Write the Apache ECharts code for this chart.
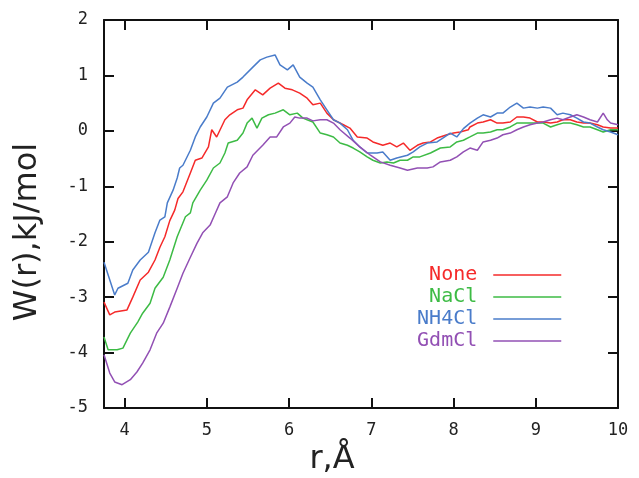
<!DOCTYPE html>
<html>
<head>
<meta charset="utf-8">
<script src="https://cdn.jsdelivr.net/npm/echarts@6/dist/echarts.min.js"></script>
<style>html,body{margin:0;padding:0;background:#fff;}#c{width:639px;height:478px;}</style>
</head>
<body>
<div id="c"></div>
<script>
const seriesNames = ['None', 'NaCl', 'NH4Cl', 'GdmCl'];
const xTicks = [4, 5, 6, 7, 8, 9, 10];
const yTicks = [-5, -4, -3, -2, -1, 0, 1, 2];

const noneR = [3.75,3.82,3.88,4.03,4.10,4.19,4.29,4.37,4.43,4.49,4.55,4.61,4.65,4.71,4.80,4.86,4.94,5.02,5.06,5.12,5.22,5.28,5.37,5.44,5.49,5.59,5.68,5.77,5.87,5.95,6.04,6.13,6.22,6.29,6.38,6.46,6.54,6.66,6.74,6.83,6.95,7.02,7.14,7.23,7.31,7.39,7.47,7.56,7.63,7.72,7.80,7.92,8.00,8.08,8.18,8.20,8.29,8.36,8.45,8.53,8.60,8.69,8.77,8.85,8.93,9.02,9.09,9.18,9.26,9.33,9.42,9.50,9.58,9.66,9.75,9.82,9.91,10.00];
const noneW = [-3.09,-3.32,-3.27,-3.23,-3.00,-2.69,-2.55,-2.33,-2.10,-1.91,-1.62,-1.43,-1.22,-1.10,-0.76,-0.53,-0.49,-0.29,0.02,-0.11,0.20,0.29,0.38,0.41,0.56,0.74,0.65,0.77,0.86,0.77,0.74,0.68,0.59,0.47,0.50,0.32,0.20,0.11,0.05,-0.11,-0.13,-0.20,-0.26,-0.22,-0.29,-0.22,-0.35,-0.26,-0.22,-0.20,-0.13,-0.07,-0.04,-0.02,0.02,0.07,0.14,0.16,0.20,0.14,0.14,0.16,0.25,0.25,0.23,0.16,0.16,0.14,0.16,0.20,0.20,0.16,0.14,0.14,0.11,0.07,0.05,0.05];

const naclR = [3.75,3.80,3.91,3.98,4.07,4.16,4.22,4.31,4.37,4.47,4.55,4.64,4.74,4.80,4.83,4.92,5.00,5.08,5.16,5.22,5.26,5.37,5.44,5.49,5.55,5.61,5.67,5.75,5.83,5.93,6.01,6.10,6.17,6.22,6.29,6.38,6.46,6.54,6.62,6.71,6.78,6.86,6.95,7.02,7.11,7.19,7.27,7.35,7.44,7.51,7.59,7.72,7.84,7.96,8.04,8.12,8.20,8.29,8.36,8.45,8.53,8.60,8.69,8.77,8.85,8.93,9.02,9.09,9.18,9.26,9.33,9.42,9.50,9.58,9.66,9.75,9.82,9.91,10.00];
const naclW = [-3.72,-3.95,-3.95,-3.92,-3.65,-3.45,-3.29,-3.11,-2.84,-2.64,-2.33,-1.91,-1.55,-1.48,-1.30,-1.07,-0.89,-0.67,-0.58,-0.40,-0.22,-0.17,-0.04,0.14,0.23,0.05,0.23,0.29,0.32,0.38,0.29,0.32,0.23,0.20,0.16,-0.04,-0.07,-0.11,-0.22,-0.26,-0.31,-0.38,-0.47,-0.53,-0.58,-0.56,-0.58,-0.53,-0.53,-0.47,-0.47,-0.40,-0.31,-0.29,-0.20,-0.17,-0.11,-0.04,-0.04,-0.02,0.02,0.02,0.07,0.14,0.14,0.14,0.14,0.14,0.07,0.11,0.14,0.14,0.11,0.07,0.07,0.02,-0.02,0.02,0.02];

const nh4clR = [3.75,3.88,3.92,4.04,4.10,4.19,4.29,4.37,4.43,4.49,4.52,4.59,4.64,4.67,4.71,4.80,4.86,4.92,5.00,5.08,5.16,5.25,5.37,5.44,5.56,5.65,5.73,5.83,5.89,5.98,6.05,6.13,6.22,6.29,6.38,6.46,6.54,6.62,6.71,6.78,6.86,6.95,7.07,7.14,7.23,7.31,7.44,7.51,7.59,7.68,7.80,7.87,7.96,8.04,8.12,8.20,8.29,8.36,8.45,8.53,8.60,8.69,8.77,8.85,8.93,9.02,9.09,9.18,9.26,9.33,9.42,9.50,9.58,9.66,9.75,9.82,9.91,10.00];
const nh4clW = [-2.37,-2.96,-2.84,-2.75,-2.51,-2.33,-2.19,-1.84,-1.61,-1.55,-1.30,-1.07,-0.85,-0.67,-0.62,-0.35,-0.11,0.07,0.25,0.50,0.59,0.79,0.88,0.97,1.15,1.28,1.33,1.37,1.19,1.10,1.19,0.97,0.86,0.79,0.56,0.38,0.20,0.14,0.02,-0.17,-0.29,-0.40,-0.40,-0.38,-0.53,-0.49,-0.44,-0.38,-0.29,-0.22,-0.20,-0.13,-0.04,-0.11,0.04,0.14,0.23,0.29,0.25,0.32,0.32,0.43,0.50,0.41,0.43,0.41,0.43,0.41,0.29,0.32,0.29,0.23,0.16,0.14,0.07,0.02,-0.02,-0.07];

const gdmclR = [3.75,3.82,3.88,3.97,4.07,4.15,4.22,4.31,4.39,4.47,4.55,4.64,4.71,4.80,4.88,4.95,5.04,5.10,5.16,5.25,5.32,5.40,5.49,5.56,5.68,5.77,5.85,5.93,6.01,6.07,6.13,6.22,6.29,6.38,6.46,6.54,6.62,6.74,6.86,6.99,7.11,7.23,7.35,7.44,7.56,7.68,7.75,7.84,7.96,8.04,8.12,8.20,8.29,8.36,8.45,8.53,8.60,8.69,8.77,8.85,8.93,9.02,9.09,9.18,9.26,9.33,9.42,9.50,9.58,9.66,9.75,9.82,9.87,9.91,10.00];
const gdmclW = [-4.04,-4.37,-4.53,-4.58,-4.49,-4.35,-4.19,-3.95,-3.65,-3.47,-3.18,-2.84,-2.57,-2.28,-2.03,-1.84,-1.70,-1.50,-1.30,-1.19,-0.94,-0.76,-0.65,-0.44,-0.26,-0.11,-0.11,0.07,0.14,0.25,0.23,0.23,0.18,0.20,0.20,0.14,0.02,-0.13,-0.29,-0.44,-0.56,-0.62,-0.67,-0.71,-0.67,-0.67,-0.65,-0.56,-0.53,-0.47,-0.38,-0.31,-0.35,-0.20,-0.17,-0.13,-0.07,-0.04,0.02,0.07,0.11,0.14,0.16,0.20,0.23,0.20,0.25,0.29,0.25,0.20,0.16,0.32,0.20,0.14,0.11];

const colors = ['#f52a2a', '#3dbb45', '#4a7cca', '#9250b4'];
const seriesR = [noneR, naclR, nh4clR, gdmclR];
const seriesW = [noneW, naclW, nh4clW, gdmclW];

const chart = echarts.init(document.getElementById('c'));
const tickFont = { fontFamily: 'DejaVu Sans Mono', fontSize: 17, color: '#222' };
const axisLineStyle = { color: '#111', width: 2 };

chart.setOption({
  animation: false,
  backgroundColor: '#fff',
  grid: { left: 104, right: 21, top: 20, bottom: 70, containLabel: false, outerBoundsMode: 'none' },
  legend: {
    orient: 'vertical',
    right: 72,
    top: 260,
    align: 'right',
    itemWidth: 68,
    itemHeight: 14,
    itemGap: 2,
    itemStyle: { opacity: 0 },
    lineStyle: { width: 1.5 },
    textStyle: { fontFamily: 'DejaVu Sans Mono', fontSize: 20, lineHeight: 20, padding: [0, 11, 0, 0] },
    data: seriesNames.map((n, i) => ({ name: n, textStyle: { color: colors[i] } }))
  },
  xAxis: [{
    type: 'value', min: 3.75, max: 10, position: 'bottom',
    name: 'r,Å', nameLocation: 'middle', nameGap: 31,
    nameTextStyle: { fontFamily: 'DejaVu Sans', fontSize: 32, color: '#222', padding: [0, 58, 0, 0] },
    axisLine: { show: true, onZero: false, lineStyle: axisLineStyle },
    axisTick: { show: true, inside: true, length: 10, lineStyle: { color: '#111', width: 2 }, customValues: xTicks },
    axisLabel: { ...tickFont, margin: 14, customValues: xTicks },
    splitLine: { show: false }
  }, {
    type: 'value', min: 3.75, max: 10, position: 'top',
    axisLine: { show: true, onZero: false, lineStyle: axisLineStyle },
    axisTick: { show: true, inside: true, length: 10, lineStyle: { color: '#111', width: 2 }, customValues: xTicks },
    axisLabel: { show: false },
    splitLine: { show: false }
  }],
  yAxis: [{
    type: 'value', min: -5, max: 2, interval: 1, position: 'left',
    name: 'W(r),kJ/mol', nameLocation: 'middle', nameGap: 60,
    nameTextStyle: { fontFamily: 'DejaVu Sans', fontSize: 32, color: '#222', padding: [0, 36, 0, 0] },
    axisLine: { show: true, onZero: false, lineStyle: axisLineStyle },
    axisTick: { show: true, inside: true, length: 10, lineStyle: { color: '#111', width: 2 } },
    axisLabel: { ...tickFont, margin: 16 },
    splitLine: { show: false }
  }, {
    type: 'value', min: -5, max: 2, interval: 1, position: 'right',
    axisLine: { show: true, onZero: false, lineStyle: axisLineStyle },
    axisTick: { show: true, inside: true, length: 10, lineStyle: { color: '#111', width: 2 } },
    axisLabel: { show: false },
    splitLine: { show: false }
  }],
  series: seriesNames.map((n, i) => ({
    name: n,
    type: 'line',
    xAxisIndex: 0,
    yAxisIndex: 0,
    showSymbol: false,
    symbol: 'none',
    color: colors[i],
    lineStyle: { width: 1.5, color: colors[i] },
    z: 2,
    data: seriesR[i].map((r, k) => [r, seriesW[i][k]])
  }))
});
</script>
</body>
</html>
